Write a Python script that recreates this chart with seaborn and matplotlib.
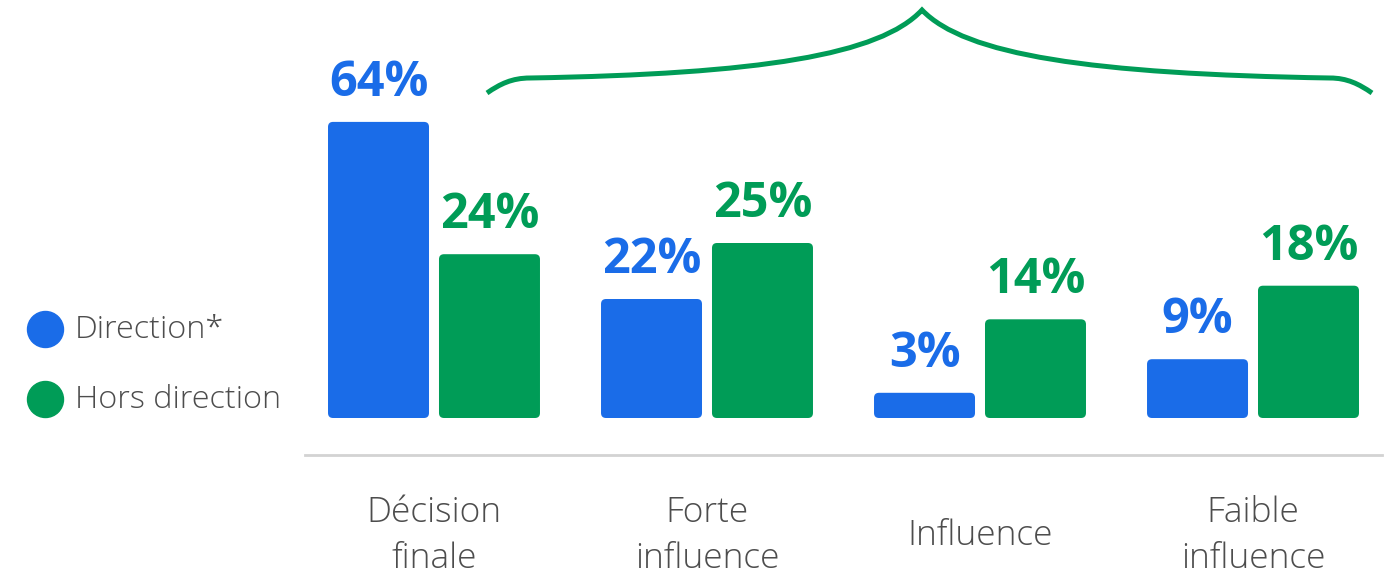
import numpy as np
import pandas as pd
import matplotlib
matplotlib.use("Agg")
import matplotlib.pyplot as plt
import seaborn as sns
from matplotlib.patches import FancyBboxPatch, PathPatch
from matplotlib.path import Path

# ---------------- data ----------------
categories = ["Décision\nfinale", "Forte\ninfluence", "Influence", "Faible\ninfluence"]
series = ["Direction*", "Hors direction"]
direction_labels = [64, 22, 3, 9]
hors_labels = [24, 25, 14, 18]
# bar heights as drawn in the source picture (source bars are not to scale)
direction_heights = [42.3, 17.0, 3.6, 8.4]
hors_heights = [23.4, 25.0, 14.1, 18.9]

BLUE = "#1A6CE8"
GREEN = "#009C57"
TEXT = "#4D4D4D"

df = pd.DataFrame({
    "cat": categories * 2,
    "series": [series[0]] * 4 + [series[1]] * 4,
    "height": direction_heights + hors_heights,
})

sns.set_theme(style="white")
plt.rcParams["font.family"] = ["Open Sans", "DejaVu Sans"]

W, H = 1386, 574
fig = plt.figure(figsize=(W / 100, H / 100), dpi=100)
ax = fig.add_axes([305 / W, (H - 455) / H, (1382 - 305) / W, 455 / H])

sns.barplot(data=df, x="cat", y="height", hue="series", order=categories,
            hue_order=series, palette=[BLUE, GREEN], saturation=1,
            width=0.813, gap=0.09, legend=False, ax=ax)

ax.set_xlim(-0.4725, 3.4725)
ax.set_ylim(-37 / 7, 418 / 7)

# rounded corners for the bars
fig.canvas.draw()
px_x = ax.transData.transform((1, 0))[0] - ax.transData.transform((0, 0))[0]
px_y = ax.transData.transform((0, 1))[1] - ax.transData.transform((0, 0))[1]
r_px = 5
for cont, color in zip(ax.containers, [BLUE, GREEN]):
    for p in cont.patches:
        x0, y0 = p.get_x(), p.get_y()
        w, h = p.get_width(), p.get_height()
        r = r_px / px_x
        rp = FancyBboxPatch((x0, y0), w, h,
                            boxstyle=f"round,pad=0,rounding_size={r}",
                            mutation_aspect=px_x / px_y,
                            facecolor=color, edgecolor="none", zorder=3)
        ax.add_patch(rp)
        p.set_visible(False)

for cont, labs, color in zip(ax.containers, [direction_labels, hors_labels], [BLUE, GREEN]):
    ax.bar_label(cont, labels=[f"{v}%" for v in labs], padding=10,
                 fontsize=35, fontweight="bold", color=color)

# axes styling
for s in ["top", "left", "right"]:
    ax.spines[s].set_visible(False)
ax.spines["bottom"].set_color("#D3D3D3")
ax.spines["bottom"].set_linewidth(2)
ax.set_yticks([])
ax.set_xlabel("")
ax.set_ylabel("")
ax.tick_params(axis="x", length=0, pad=58)
for t in ax.get_xticklabels():
    t.set_verticalalignment("center")
    t.set_fontsize(25.5)
    t.set_color(TEXT)
    t.set_fontweight("light")
    t.set_linespacing(1.42)

# overlay in pixel coords for legend and brace
ov = fig.add_axes([0, 0, 1, 1], facecolor="none")
ov.set_xlim(0, W)
ov.set_ylim(H, 0)
ov.axis("off")

for yy, lab, col in [(329, series[0], BLUE), (399, series[1], GREEN)]:
    ov.scatter([45], [yy], s=(36 * 0.72) ** 2, color=col, zorder=3)
    ov.text(75, yy + 1, lab, fontsize=23.3, color=TEXT, va="center", ha="left",
            fontweight="light")

verts = [(487, 93), (500, 84), (512, 78), (530, 78),
         (760, 74), (880, 55), (922, 10),
         (965, 55), (1090, 74), (1330, 78),
         (1347, 78), (1359, 84), (1372, 93)]
codes = [Path.MOVETO] + [Path.CURVE4] * 12
ov.add_patch(PathPatch(Path(verts, codes), facecolor="none", edgecolor=GREEN,
                       linewidth=3.6, capstyle="butt", joinstyle="miter"))

fig.savefig("out.png", dpi=100)
